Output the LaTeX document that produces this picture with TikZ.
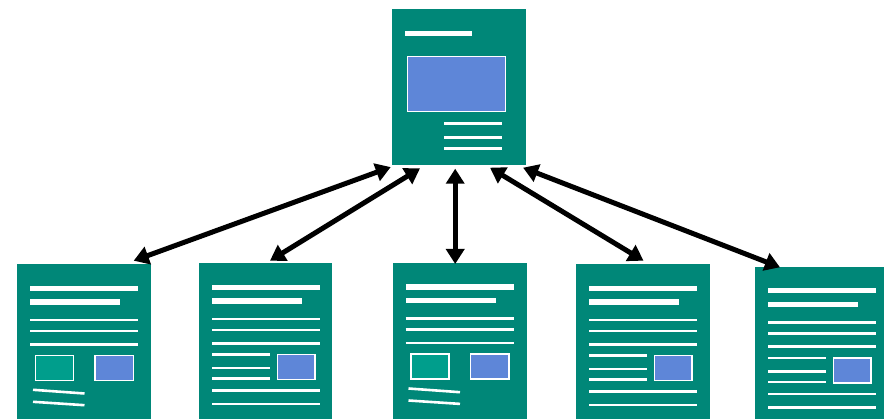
\documentclass[tikz,border=0pt]{standalone}
\usetikzlibrary{arrows.meta}
\definecolor{pagegreen}{RGB}{0,135,120}
\definecolor{boxblue}{RGB}{94,134,216}
\definecolor{boxteal}{RGB}{0,158,140}
\tikzset{
  page/.style={fill=pagegreen, draw=none, anchor=north west, inner sep=0pt, minimum width=134pt, minimum height=158pt},
  thickbar/.style={fill=white},
  thinline/.style={draw=white, line width=2.6pt},
  imgblue/.style={fill=boxblue, draw=white, line width=1.5pt},
  imgteal/.style={fill=boxteal, draw=white, line width=1.5pt},
  link/.style={line width=5pt, {Triangle[length=15pt,width=18pt]}-{Triangle[length=15pt,width=18pt]}},
  docA/.pic={
    \fill[thickbar] (13,21.7) rectangle (121,27);
    \fill[thickbar] (13,35.3) rectangle (103,40.7);
    \draw[thinline] (13,56) -- (121,56);
    \draw[thinline] (13,67) -- (121,67);
    \draw[thinline] (13,80.3) -- (121,80.3);
    \draw[imgteal] (18.5,91.5) rectangle (56.5,116.3);
    \draw[imgblue] (78,91.5) rectangle (116.3,116.3);
    \draw[thinline] (16,125.8) -- (67.5,129.5);
    \draw[thinline] (16,137.8) -- (67.5,141.2);
  },
  docB/.pic={
    \fill[thickbar] (13,21.7) rectangle (121,27);
    \fill[thickbar] (13,35.3) rectangle (103,40.7);
    \draw[thinline] (13,56) -- (121,56);
    \draw[thinline] (13,67) -- (121,67);
    \draw[thinline] (13,80.3) -- (121,80.3);
    \draw[thinline] (13,91.7) -- (70.5,91.7);
    \draw[thinline] (13,105) -- (70.5,105);
    \draw[thinline] (13,115.5) -- (70.5,115.5);
    \draw[imgblue] (78.3,91.5) rectangle (116,116.3);
    \draw[thinline] (13,127.5) -- (121,127.5);
    \draw[thinline] (13,141) -- (121,141);
  }
}
\begin{document}
\begin{tikzpicture}[x=1pt,y=-1pt]
\useasboundingbox (0,0) rectangle (884,419);
\clip (0,0) rectangle (884,419);
% top page
\node[page, minimum height=156pt] (top) at (392,9) {};
\fill[thickbar] (405,30.7) rectangle (471.7,36.5);
\draw[imgblue] (407.3,56.7) rectangle (505.7,111.7);
\draw[thinline] (444,123.3) -- (501.7,123.3);
\draw[thinline] (444,137.3) -- (501.7,137.3);
\draw[thinline] (444,148.3) -- (501.7,148.3);
% bottom pages
\node[page] (p1) at (17,264) {};
\pic at (17,264) {docA};
\node[page, minimum width=133pt] (p2) at (199,263) {};
\pic at (199,263) {docB};
\node[page] (p3) at (392.5,262.7) {};
\pic at (392.5,262.7) {docA};
\node[page] (p4) at (576,264) {};
\pic at (576,264) {docB};
\node[page] (p5) at (755,266.5) {};
\pic at (755,266.5) {docB};
% connectors
\draw[link] ([xshift=-1.3pt,yshift=-1.7pt]top.south west) -- ([xshift=-17.7pt,yshift=3.3pt]p1.north east);
\draw[link] ([xshift=28pt,yshift=-3pt]top.south west) -- ([xshift=71pt,yshift=2.3pt]p2.north west);
\draw[link] ([xshift=-4pt,yshift=-3.3pt]top.south) -- ([xshift=-4.5pt,yshift=-1.3pt]p3.north);
\draw[link] ([xshift=98pt,yshift=-2.3pt]top.south west) -- ([xshift=0.3pt,yshift=3.3pt]p4.north);
\draw[link] ([xshift=-3.3pt,yshift=-2.3pt]top.south east) -- ([xshift=25pt,yshift=-0.8pt]p5.north west);
\end{tikzpicture}
\end{document}
